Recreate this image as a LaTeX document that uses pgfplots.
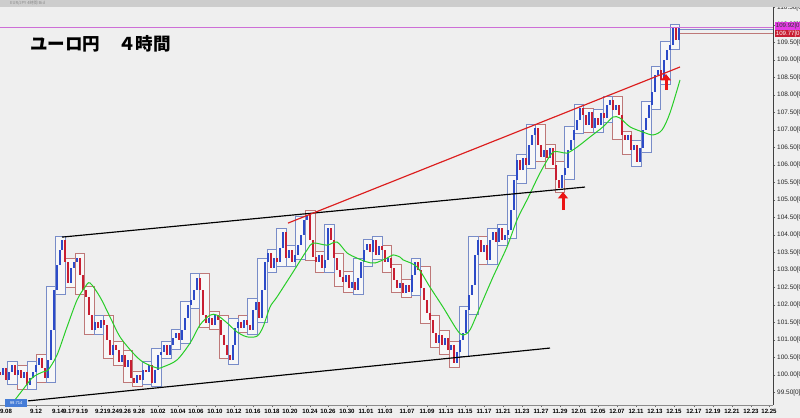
\documentclass[border=0pt]{standalone}
\usepackage{fontspec}
\setmainfont{Liberation Sans}
\newfontfamily\cjk{Noto Sans CJK JP}
\usepackage{pgfplots}
\pgfplotsset{compat=1.18}
\usepackage{pgfplotstable}
\usetikzlibrary{arrows.meta}
\definecolor{bg}{RGB}{239,239,239}
\definecolor{topbar}{RGB}{205,205,205}
\definecolor{cblue}{RGB}{45,75,200}
\definecolor{cred}{RGB}{200,30,50}
\definecolor{boxblue}{RGB}{120,140,200}
\definecolor{boxred}{RGB}{190,120,120}
\definecolor{magl}{RGB}{205,110,215}
\definecolor{trendred}{RGB}{220,30,30}
\definecolor{magr}{RGB}{230,60,230}
\definecolor{mabgreen}{RGB}{40,205,40}
\definecolor{arrowred}{RGB}{235,20,20}

\pgfplotstableread{
x o c
0 100.10 100.00
3 100.00 100.20
6 100.20 99.86
9 99.86 100.09
12 100.09 100.29
15 100.29 100.00
18 100.00 100.14
21 100.14 99.91
24 99.91 100.09
27 100.09 99.71
30 99.71 99.91
33 99.91 100.09
36 100.09 100.29
39 100.29 100.49
42 100.49 100.20
45 100.20 99.91
48 99.91 100.43
51 100.43 101.29
54 101.29 102.43
57 102.43 103.14
60 103.14 103.57
62 103.57 103.86
65 103.86 103.23
68 103.23 102.63
71 102.63 103.06
74 103.06 103.23
77 103.23 103.34
80 103.34 102.86
83 102.86 102.43
86 102.43 102.23
89 102.23 101.71
92 101.71 101.29
95 101.29 101.51
98 101.51 101.34
101 101.34 101.57
104 101.57 101.43
107 101.43 101.00
110 101.00 100.57
113 100.57 100.86
116 100.86 100.71
119 100.71 100.37
122 100.37 100.57
125 100.57 100.23
128 100.23 100.43
131 100.43 99.91
134 99.91 99.77
137 99.77 100.00
140 100.00 99.86
143 99.86 100.14
146 100.14 100.09
149 100.09 100.29
152 100.29 99.77
155 99.77 100.14
158 100.14 100.57
161 100.57 100.66
164 100.66 100.86
167 100.86 100.57
170 100.57 100.86
173 100.86 101.06
176 101.06 101.20
179 101.20 101.00
182 101.00 101.29
185 101.29 101.63
188 101.63 102.00
191 102.00 102.14
194 102.14 102.43
197 102.43 102.77
200 102.77 102.43
203 102.43 101.71
206 101.71 101.49
209 101.49 101.63
212 101.63 101.43
215 101.43 101.71
218 101.71 101.57
221 101.57 101.14
224 101.14 100.86
227 100.86 100.57
230 100.57 100.43
233 100.43 100.86
235 100.86 101.34
238 101.34 101.51
241 101.51 101.34
244 101.34 101.57
247 101.57 101.43
250 101.43 101.29
253 101.29 101.86
256 101.86 102.09
259 102.09 101.63
262 101.63 102.43
265 102.43 103.23
268 103.23 103.49
271 103.49 103.06
274 103.06 103.34
277 103.34 103.23
280 103.23 103.63
283 103.63 104.09
286 104.09 103.34
289 103.34 103.57
292 103.57 103.23
295 103.23 103.43
298 103.43 103.71
301 103.71 104.00
304 104.00 104.43
307 104.43 104.57
310 104.57 103.86
313 103.86 103.37
316 103.37 103.23
319 103.23 103.43
322 103.43 103.06
325 103.06 103.29
328 103.29 104.20
331 104.20 103.86
334 103.86 103.34
337 103.34 103.00
340 103.00 102.80
343 102.80 102.66
346 102.66 102.86
349 102.86 102.49
352 102.49 102.66
355 102.66 102.43
358 102.43 102.77
361 102.77 103.23
364 103.23 103.57
367 103.57 103.74
370 103.74 103.51
373 103.51 103.86
376 103.86 103.43
379 103.43 103.69
382 103.69 103.57
385 103.57 103.23
388 103.23 103.34
391 103.34 103.06
394 103.06 102.71
397 102.71 102.49
400 102.49 102.63
403 102.63 102.34
406 102.34 102.57
409 102.57 102.37
412 102.37 102.86
415 102.86 103.23
418 103.23 103.00
421 103.00 102.49
424 102.49 102.14
427 102.14 101.77
430 101.77 101.57
433 101.57 101.20
436 101.20 100.91
439 100.91 101.14
442 101.14 100.86
445 100.86 101.06
448 101.06 100.71
451 100.71 100.86
454 100.86 100.34
457 100.34 100.66
460 100.66 101.00
463 101.00 101.20
466 101.20 101.86
469 101.86 102.29
472 102.29 102.57
475 102.57 103.43
478 103.43 103.86
481 103.86 103.51
484 103.51 103.71
487 103.71 103.29
490 103.29 103.86
493 103.86 104.09
496 104.09 103.80
499 103.80 104.20
502 104.20 103.86
505 103.86 104.00
508 104.00 104.14
511 104.14 104.71
514 104.71 105.57
517 105.57 106.14
520 106.14 105.86
523 105.86 106.20
526 106.20 106.00
529 106.00 106.57
532 106.57 106.86
535 106.86 107.06
538 107.06 106.57
541 106.57 106.23
544 106.23 106.43
547 106.43 106.20
550 106.20 106.49
553 106.49 106.00
556 106.00 105.57
559 105.57 105.34
562 105.34 105.71
565 105.71 105.91
568 105.91 106.43
571 106.43 106.71
574 106.71 107.00
577 107.00 107.29
580 107.29 107.63
583 107.63 107.43
586 107.43 107.14
589 107.14 107.51
592 107.51 107.06
595 107.06 107.34
598 107.34 107.14
601 107.14 107.49
604 107.49 107.34
607 107.34 107.71
610 107.71 107.86
613 107.86 107.57
616 107.57 107.71
619 107.71 107.43
622 107.43 106.86
625 106.86 106.71
628 106.71 106.86
631 106.86 106.43
634 106.43 106.57
637 106.57 106.09
640 106.09 106.49
643 106.49 107.00
646 107.00 107.34
649 107.34 107.71
652 107.71 108.09
655 108.09 108.57
658 108.57 108.71
661 108.71 108.43
664 108.43 109.00
667 109.00 109.29
670 109.29 109.43
673 109.43 109.91
676 109.91 109.57
679 109.57 109.92
}\candles

\pgfplotstableread{
x0 l h
7.8 99.74 100.40
27.0 99.60 100.40
46.2 99.80 102.54
55.8 102.31 103.97
94.2 101.17 101.69
142.2 99.74 100.40
151.8 99.66 100.77
161.4 100.46 100.97
171.0 100.74 101.31
180.6 100.89 102.11
190.2 101.89 102.89
228.6 100.31 101.63
247.8 101.17 102.20
257.4 101.51 103.34
267.0 102.94 103.60
276.6 103.11 104.20
286.2 103.11 103.69
295.8 103.31 104.54
324.6 102.94 104.31
353.4 102.31 103.34
363.0 103.11 103.86
372.6 103.31 103.97
411.0 102.26 103.34
459.0 100.54 101.97
468.6 101.74 103.97
487.8 103.17 104.20
497.4 103.69 104.31
507.0 103.89 105.69
516.6 105.46 106.31
526.2 105.89 107.17
564.6 105.60 107.11
574.2 106.89 107.74
593.4 106.94 107.60
603.0 107.23 107.97
631.8 105.97 106.69
641.4 106.37 107.83
651.0 107.60 108.83
660.6 108.31 109.54
670.2 109.31 110.03
}\boxup

\pgfplotstableread{
x0 l h
-1.8 99.74 100.31
17.4 99.60 100.26
36.6 99.80 100.60
65.4 102.51 103.34
75.0 102.31 103.46
84.6 101.17 102.54
103.8 100.46 101.69
113.4 100.26 100.97
123.0 99.80 100.69
132.6 99.66 100.11
199.8 101.37 102.89
209.4 101.31 101.83
219.0 100.46 101.69
238.2 101.23 101.69
305.4 103.26 104.69
315.0 102.94 103.54
334.2 102.54 103.46
343.8 102.37 102.97
382.2 102.94 103.69
391.8 102.37 103.17
401.4 102.23 102.74
420.6 101.46 103.11
430.2 100.80 101.69
439.8 100.60 101.26
449.4 100.23 100.97
478.2 103.17 103.97
535.8 106.11 107.17
545.4 105.89 106.60
555.0 105.23 106.11
583.8 106.94 107.63
612.6 106.74 107.97
622.2 106.31 106.97
}\boxdn

\begin{document}
\begin{tikzpicture}
\path[use as bounding box, fill=bg] (0,-3.9mm) rectangle (240mm,121.5mm);
\begin{axis}[
  at={(0,0)}, anchor=south west,
  x=0.3mm, y=10.5mm,
  xmin=0, xmax=773, ymin=99.143, ymax=110.5,
  clip mode=individual,
  axis x line*=bottom, axis y line*=right,
  axis line style={-},
  x axis line style={draw=black!45},
  y axis line style={draw=black!75},
  tick align=outside,
  major tick length=0.7mm, minor tick length=0.35mm,
  tick style={black!60},
  minor x tick num=2,
  /pgf/number format/assume math mode=true,
  ytick={99.5,100,100.5,101,101.5,102,102.5,103,103.5,104,104.5,105,105.5,106,106.5,107,107.5,108,108.5,109,109.5,110,110.5},
  yticklabel pos=right,
  yticklabel={\pgfmathprintnumber[fixed,fixed zerofill,precision=2]{\tick}[0]},
  yticklabel style={font=\fontsize{5.5}{6}\selectfont, text=black!85, inner sep=0.5mm},
  xtick={6,36,58,69,82,101,113,125,139,158,178,196,215,234,253,272,290,310,328,347,366,385,407,427,446,465,484,503,522,541,560,579,598,617,636,655,674,694,713,732,751,769},
  xticklabels={9.08,9.12,9.14,9.17,9.19,9.21,9.24,9.26,9.28,10.02,10.04,10.06,10.10,10.12,10.16,10.18,10.20,10.24,10.26,10.30,11.01,11.03,11.07,11.09,11.13,11.15,11.17,11.21,11.23,11.27,11.29,12.01,12.05,12.07,12.11,12.13,12.15,12.17,12.19,12.21,12.23,12.25},
  xticklabel style={font=\fontsize{5.2}{6}\selectfont\bfseries, text=black, inner sep=0.4mm},
]
% daily range boxes
\addplot[only marks, scatter, mark=text, text mark={},
  visualization depends on={\thisrow{h}-\thisrow{l} \as \rng},
  scatter/@pre marker code/.code={%
    \pgfsetlinewidth{0.25mm}\pgfsetstrokecolor{boxred}\pgfsetfillcolor{white}\pgfsetfillopacity{0.55}%
    \pgfpathrectangle{\pgfpointorigin}{\pgfpoint{2.88mm}{\rng*10.5mm}}%
    \pgfusepath{fill,stroke}},
  scatter/@post marker code/.code={}]
  table[x=x0, y=l]{\boxdn};
\addplot[only marks, scatter, mark=text, text mark={},
  visualization depends on={\thisrow{h}-\thisrow{l} \as \rng},
  scatter/@pre marker code/.code={%
    \pgfsetlinewidth{0.25mm}\pgfsetstrokecolor{boxblue}\pgfsetfillcolor{white}\pgfsetfillopacity{0.55}%
    \pgfpathrectangle{\pgfpointorigin}{\pgfpoint{2.88mm}{\rng*10.5mm}}%
    \pgfusepath{fill,stroke}},
  scatter/@post marker code/.code={}]
  table[x=x0, y=l]{\boxup};
% candles
\addplot[cblue, only marks, mark=text, text mark={},
  restrict expr to domain={\thisrow{c}-\thisrow{o}}{0:50},
  error bars/.cd, y dir=both, y explicit, error mark=none,
  error bar style={line width=0.4mm, cblue}]
  table[x=x, y expr={(\thisrow{o}+\thisrow{c})/2}, y error expr={abs(\thisrow{c}-\thisrow{o})/2}]{\candles};
\addplot[cred, only marks, mark=text, text mark={},
  restrict expr to domain={\thisrow{o}-\thisrow{c}}{0.001:50},
  error bars/.cd, y dir=both, y explicit, error mark=none,
  error bar style={line width=0.4mm, cred}]
  table[x=x, y expr={(\thisrow{o}+\thisrow{c})/2}, y error expr={abs(\thisrow{c}-\thisrow{o})/2}]{\candles};
% moving average
\addplot[mabgreen, line width=0.3mm, smooth, mark=none] coordinates {
(15,99.29) (25,99.66) (33,99.94) (43,100.09) (48,100.14) (57,100.57) (67,101.37) (77,102.14) (85,102.51) (90,102.63) (100,102.23) (110,101.66) (120,101.09) (133,100.63) (143,100.37) (157,100.20) (163,100.23) (177,100.43) (190,100.91) (200,101.43) (210,101.71) (217,101.71) (227,101.49) (237,101.23) (247,101.09) (257,101.11) (263,101.37) (270,101.94) (277,102.23) (293,102.94) (307,103.57) (313,103.77) (327,103.71) (337,103.80) (347,103.49) (357,103.34) (367,103.23) (375,103.20) (387,103.34) (393,103.43) (400,103.37) (403,103.29) (417,103.09) (430,102.51) (443,101.94) (457,101.29) (463,101.14) (470,101.29) (480,101.94) (493,102.80) (507,103.66) (517,104.43) (528,105.06) (540,105.77) (552,106.34) (560,106.37) (567,106.34) (577,106.51) (590,106.80) (603,107.09) (613,107.37) (620,107.34) (630,107.09) (643,106.94) (653,106.86) (662,107.00) (670,107.49) (680,108.43)};
% trend lines
\addplot[black, line width=0.35mm] coordinates {(62,103.94) (585,105.37)};
\addplot[black, line width=0.35mm] coordinates {(28,99.26) (550,100.77)};
\addplot[trendred, line width=0.35mm] coordinates {(288,104.34) (680,108.80)};
% price lines
\addplot[magl, line width=0.25mm] coordinates {(0,109.92) (773,109.92)};
\addplot[boxblue, line width=0.2mm] coordinates {(680,109.88) (773,109.88)};
\addplot[boxred, line width=0.25mm] coordinates {(680,109.77) (773,109.77)};
% arrows
\addplot[arrowred, line width=0.9mm, -{Triangle[length=1.9mm, width=2.9mm]}, quiver={u=0, v=0.52}] coordinates {(563,104.71)};
\addplot[arrowred, line width=0.9mm, -{Triangle[length=1.9mm, width=2.9mm]}, quiver={u=0, v=0.46}] coordinates {(666,108.14)};
\end{axis}
% window title bar
\fill[topbar] (0,119.4mm) rectangle (240mm,121.5mm);
\node[anchor=west, inner sep=0pt, text=black!45, font=\cjk\fontsize{3.5}{4}\selectfont] at (3mm,120.5mm) {EUR/JPY 4時間 Bid};
% title
\node[anchor=west, inner sep=0pt, font=\cjk\bfseries\fontsize{15}{15}\selectfont] at (9mm,108.3mm) {ユーロ円　４時間};
% right price labels
\node[anchor=west, inner sep=0.3mm, fill=magr, text=black!80, font=\fontsize{5.2}{5.5}\selectfont, minimum height=2.5mm] at (232.4mm,113.6mm) {109.92[0]};
\node[anchor=west, inner sep=0.3mm, fill=cred, text=white, font=\fontsize{5.2}{5.5}\selectfont, minimum height=1.6mm] at (232.4mm,111.4mm) {109.77[0]};
% bottom-left marker
\node[anchor=west, inner sep=0.3mm, fill={rgb,255:red,70;green,125;blue,215}, text=white, font=\fontsize{3.5}{4}\selectfont, minimum height=2.2mm, minimum width=6.6mm] at (1.5mm,0.6mm) {99.714};
\end{tikzpicture}
\end{document}
